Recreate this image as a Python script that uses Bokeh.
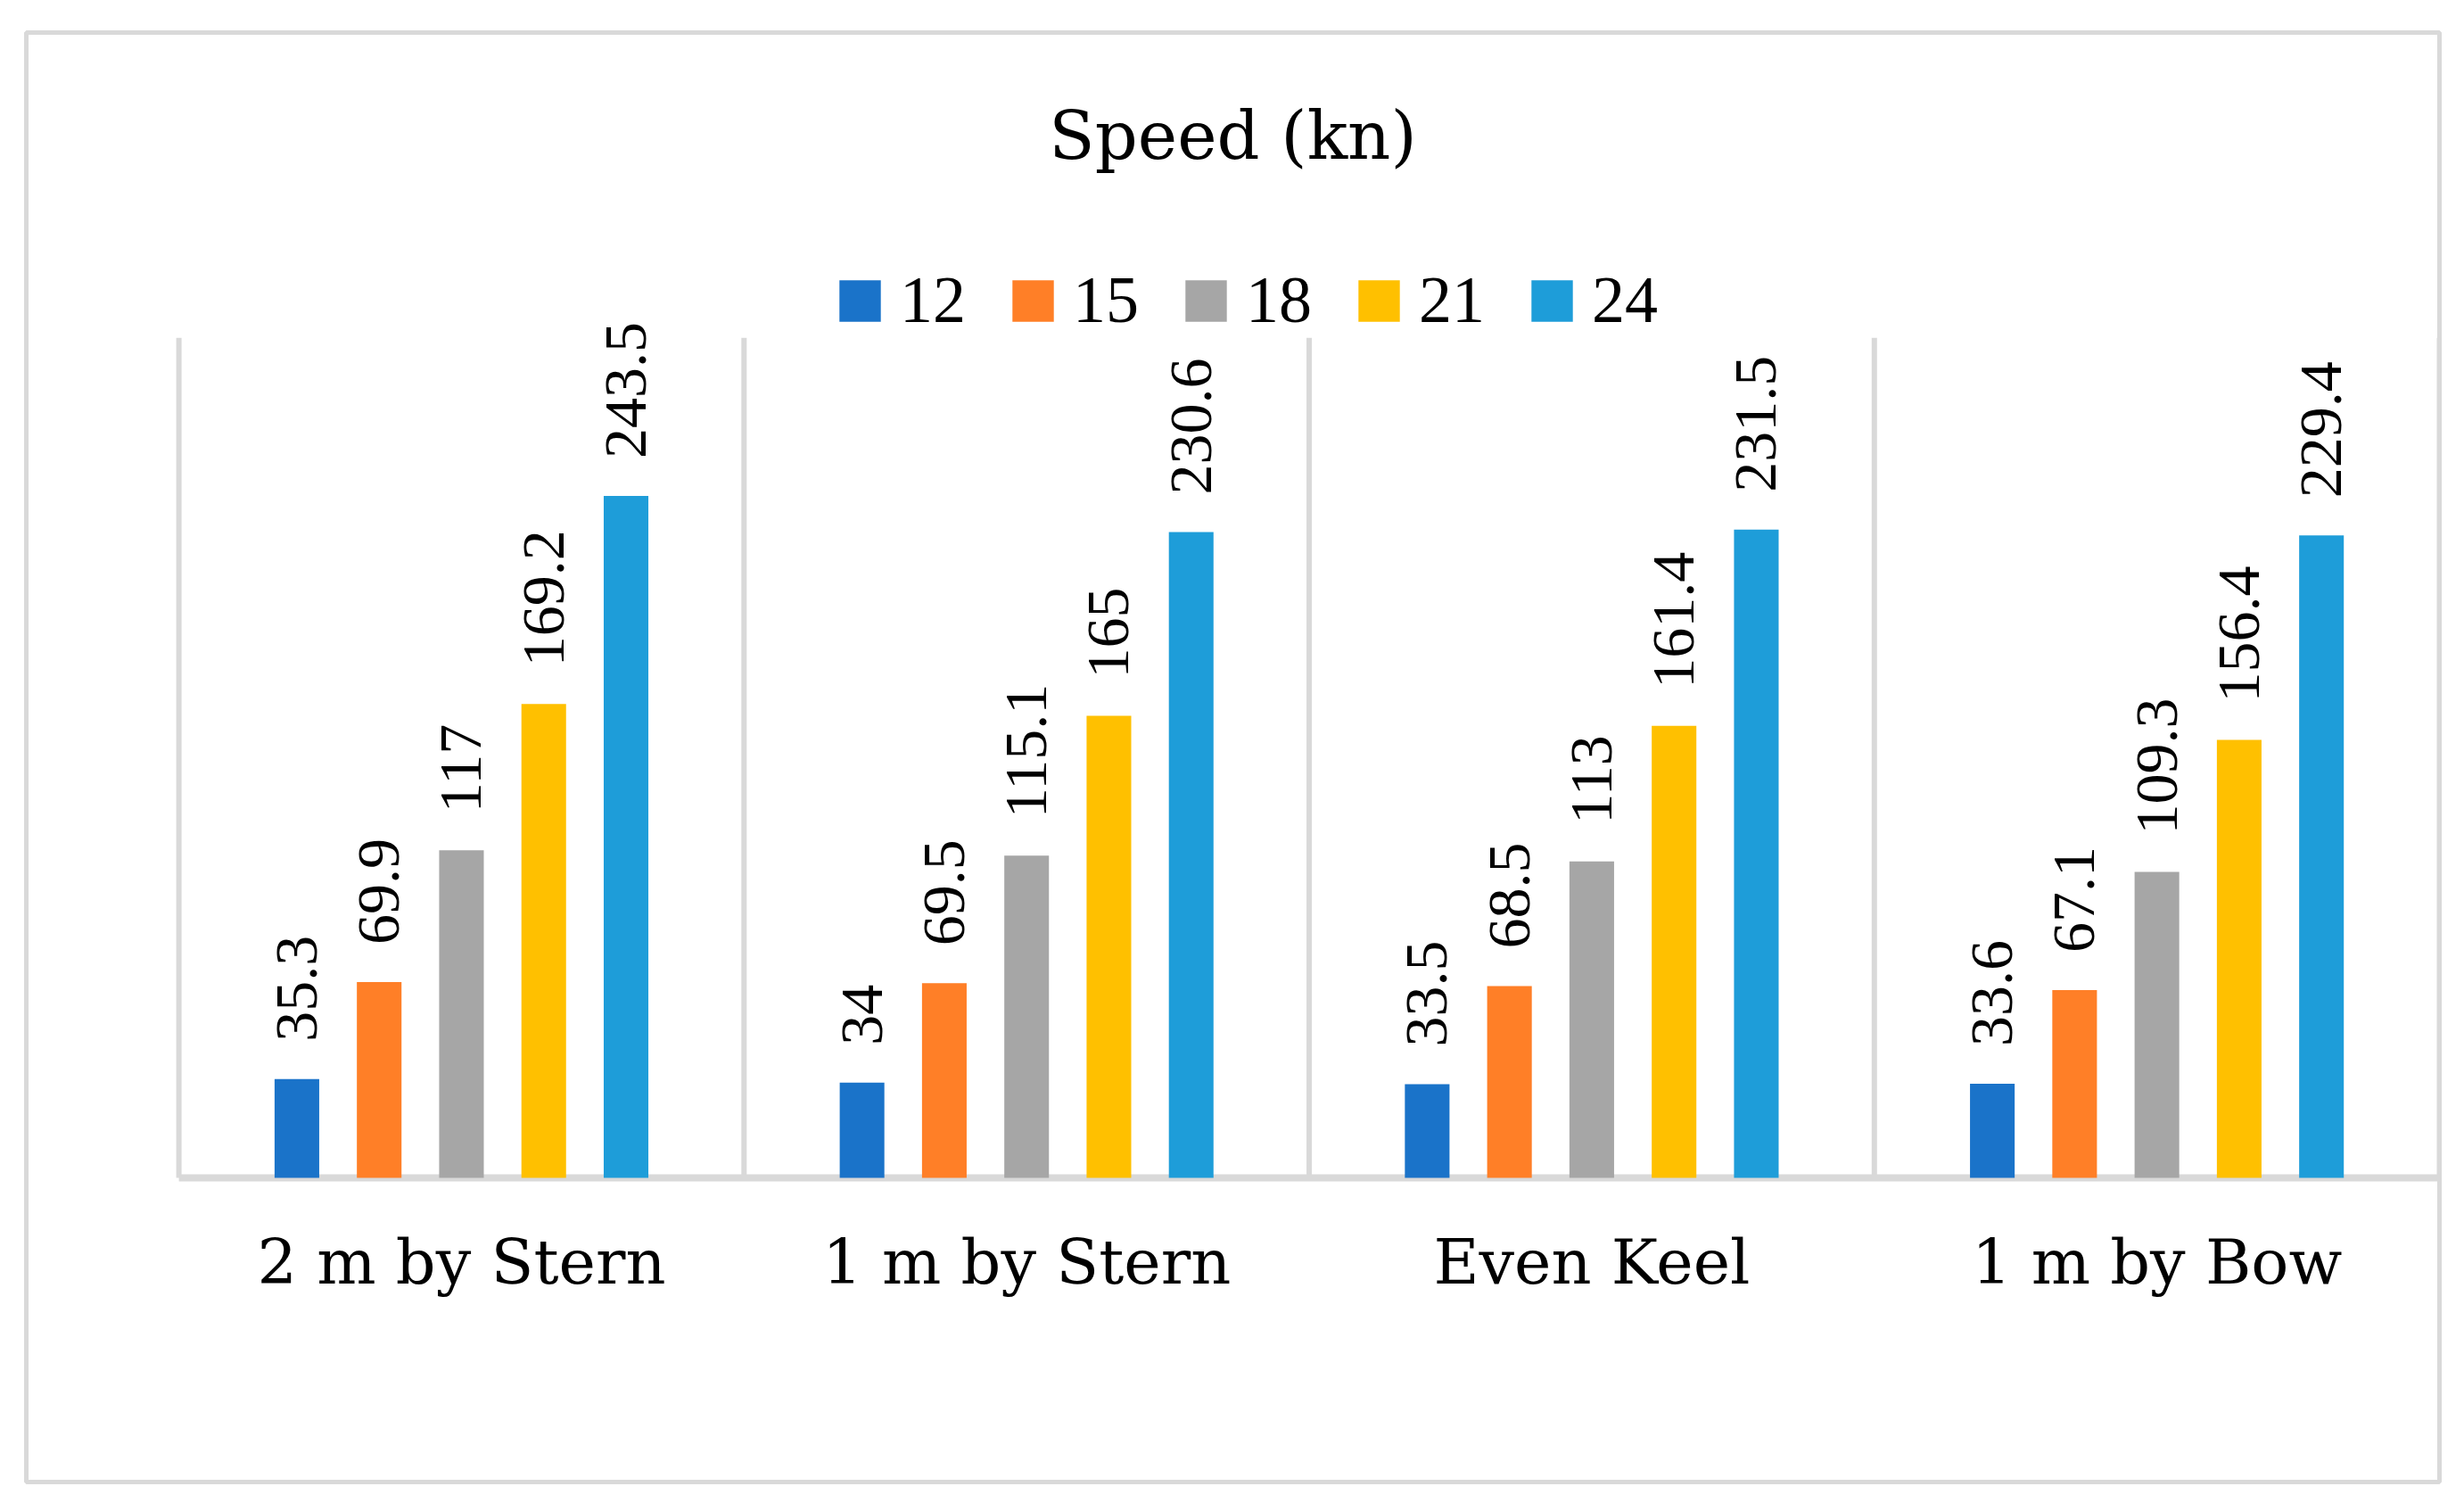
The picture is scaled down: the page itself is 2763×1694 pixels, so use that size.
import math
from bokeh.plotting import figure
from bokeh.models import ColumnDataSource, Range1d, Legend, LegendItem
from bokeh.transform import dodge
from bokeh.core.properties import value
from bokeh.embed import file_html
from bokeh.resources import INLINE

# ---- data ----
categories = ["2 m by Stern", "1 m by Stern", "Even Keel", "1 m by Bow"]
series_names = ["12", "15", "18", "21", "24"]
v12 = [35.3, 34.0, 33.5, 33.6]
v15 = [69.9, 69.5, 68.5, 67.1]
v18 = [117.0, 115.1, 113.0, 109.3]
v21 = [169.2, 165.0, 161.4, 156.4]
v24 = [243.5, 230.6, 231.5, 229.4]
chart_title = "Speed (kn)"
y_max = 300

# ---- style ----
colors = ["#1A73C9", "#FF7F27", "#A6A6A6", "#FFC000", "#1E9DD9"]
grid_color = "#D9D9D9"
num_font = "Liberation Serif"
txt_font = "DejaVu Serif"

series_vals = [v12, v15, v18, v21, v24]
n_cat = len(categories)
xc = [i + 0.5 for i in range(n_cat)]

def fmt(v):
    return f"{v:g}"

data = dict(xc=xc, cat=categories)
for name, vals in zip(series_names, series_vals):
    data["v" + name] = vals
    data["t" + name] = [fmt(v) for v in vals]
src = ColumnDataSource(data)

W, H = 2745, 1676
x_range = Range1d(-0.27, n_cat)
y_range = Range1d(-108.6, 409.0)
p = figure(width=W, height=H, output_backend="svg", toolbar_location=None,
           x_range=x_range, y_range=y_range, title=None,
           x_axis_location=None, y_axis_location=None,
           min_border_left=29, min_border_right=10,
           min_border_top=36, min_border_bottom=15)
p.xgrid.visible = False
p.ygrid.visible = False
p.background_fill_color = "white"
p.border_fill_color = "white"
p.outline_line_color = grid_color
p.outline_line_width = 5

# vertical category separators and baseline
bounds = list(range(n_cat + 1))
p.segment(x0=bounds, y0=[0] * len(bounds), x1=bounds, y1=[y_max] * len(bounds),
          line_color=grid_color, line_width=6)
p.segment(x0=[0], y0=[0], x1=[n_cat], y1=[0], line_color=grid_color, line_width=8)

offsets = [-0.2912, -0.1456, 0.0, 0.1456, 0.2912]
bar_w = 0.079
items = []
for name, off, c in zip(series_names, offsets, colors):
    r = p.vbar(x=dodge("xc", off), top="v" + name, bottom=0, width=bar_w,
               source=src, fill_color=c, line_color=None)
    p.text(x=dodge("xc", off), y="v" + name, text="t" + name, source=src,
           angle=math.pi / 2, text_align="left", text_baseline="middle",
           y_offset=-42, text_font=value(num_font), text_font_size="68px",
           text_color="black")
    items.append(LegendItem(label=value(name), renderers=[r]))

# category labels
p.text(x="xc", y=0, text="cat", source=src, text_align="center",
       text_baseline="alphabetic", y_offset=94, text_font=value(txt_font),
       text_font_size="70px", text_color="black")

# title
p.text(x=[(x_range.start + x_range.end) / 2], y=[y_range.end], text=[chart_title],
       text_align="center", text_baseline="alphabetic", y_offset=115,
       text_font=value(txt_font), text_font_size="75px", text_color="black")

legend = Legend(items=items, orientation="horizontal", location=(906, 1282),
                glyph_width=58, glyph_height=58, label_standoff=16, spacing=46,
                padding=0, margin=0, border_line_color=None,
                background_fill_alpha=0, label_text_font=num_font,
                label_text_font_size="74px", label_height=58,
                label_text_color="black")
p.add_layout(legend)

open("out.html", "w").write(file_html(p, INLINE))
